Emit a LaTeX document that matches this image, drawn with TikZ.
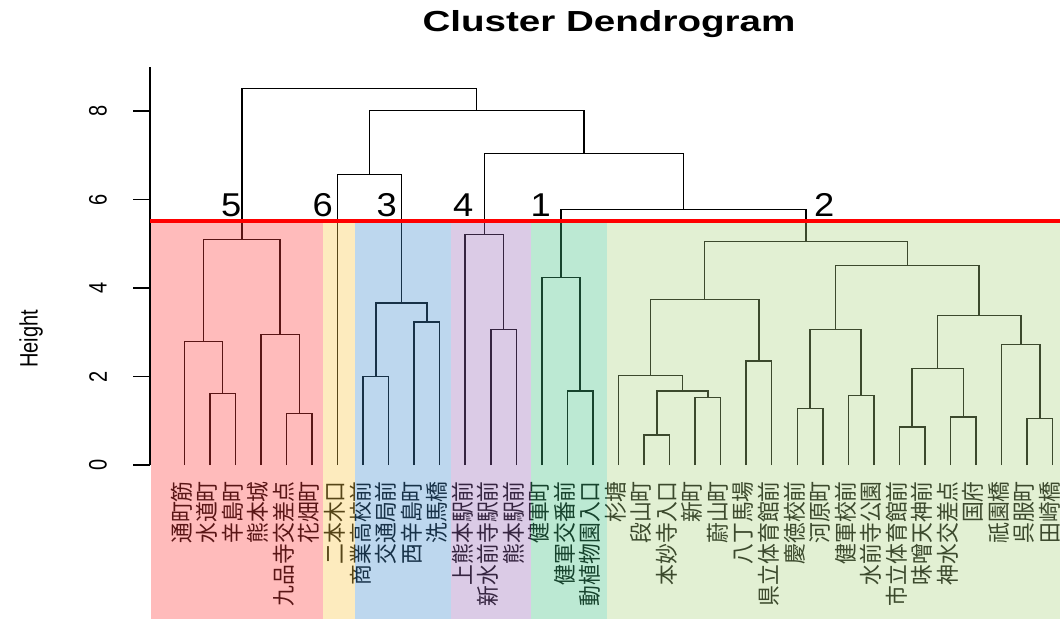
\documentclass[tikz,border=0pt]{standalone}
\usepackage{fontspec}
\setmainfont{Liberation Sans}
\newfontfamily\jpfont{Noto Sans CJK JP}
\begin{document}
\begin{tikzpicture}[x=1pt,y=-1pt,
  tree/.style={draw=black,line width=1.5pt},
  lab/.style={font=\jpfont\fontsize{20.8}{21}\selectfont,inner sep=0pt,xscale=1.1,rotate=90,anchor=east},
  ticklab/.style={font=\fontsize{20}{20}\selectfont,inner sep=0pt,xscale=1.26,rotate=90},
  cnum/.style={font=\fontsize{33}{33}\selectfont,inner sep=0pt,anchor=base,xscale=1.1},
  box/.style={fill opacity=0.35}]
\useasboundingbox (0,0) rectangle (1060,619);
\definecolor{cR}{RGB}{255,61,61}
\definecolor{cY}{RGB}{249,198,69}
\definecolor{cB}{RGB}{66,141,206}
\definecolor{cP}{RGB}{152,106,184}
\definecolor{cG}{RGB}{64,192,129}
\definecolor{cL}{RGB}{172,212,129}
% title
\node[font=\bfseries\fontsize{29}{29}\selectfont,inner sep=0pt,anchor=base,xscale=1.33] (title) at (609,31) {Cluster Dendrogram};
% axis
\draw[line width=1.3pt] (150,67) -- (150,465);
\foreach \v/\yy in {0/465,2/376.5,4/288,6/199.5,8/111}{
  \draw[line width=1.3pt] (150,\yy) -- (133,\yy);
  \node[ticklab] (tick\v) at (98,\yy) {\v};
}
\node[font=\fontsize{20}{20}\selectfont,inner sep=0pt,xscale=1.26,rotate=90] (ylab) at (31,339) {Height};
% leaves and labels
\foreach \t [count=\i from 0] in {通町筋,水道町,辛島町,熊本城,九品寺交差点,花畑町,二本木口,商業高校前,交通局前,西辛島町,洗馬橋,上熊本駅前,新水前寺駅前,熊本駅前,健軍町,健軍交番前,動植物園入口,杉塘,段山町,本妙寺入口,新町,蔚山町,八丁馬場,県立体育館前,慶徳校前,河原町,健軍校前,水前寺公園,市立体育館前,味噌天神前,神水交差点,国府,祇園橋,呉服町,田崎橋}{
  \coordinate (L\i) at ({184.3+25.54*\i},465);
  \node[lab] (t\i) at ({181.5+25.54*\i},481) {\t};
}
% merge points
\coordinate (r1) at (222.6,393.3);
\coordinate (r2) at (203.45,341.7);
\coordinate (r3) at (299.25,413.3);
\coordinate (r4) at (280.1,334.3);
\coordinate (r5) at (241.8,239.3);
\coordinate (b1) at (375.85,376.7);
\coordinate (b2) at (426.95,322);
\coordinate (b3) at (401.4,303);
\coordinate (y1) at (369.45,174.3);
\coordinate (p1) at (503.55,329.3);
\coordinate (p2) at (484.4,234.3);
\coordinate (g1) at (580.15,391);
\coordinate (g2) at (561.0,277.3);
\coordinate (a1) at (656.8,435);
\coordinate (a2) at (707.85,397.3);
\coordinate (a3) at (682.3,391);
\coordinate (a4) at (650.4,375.7);
\coordinate (a5) at (758.95,361);
\coordinate (a6) at (704.7,299.3);
\coordinate (a7) at (810.05,408.3);
\coordinate (a8) at (861.1,395.7);
\coordinate (a9) at (835.6,329.3);
\coordinate (a10) at (912.2,427);
\coordinate (a11) at (963.25,417);
\coordinate (a12) at (937.7,368.3);
\coordinate (a13) at (1039.9,418.3);
\coordinate (a14) at (1020.75,344.3);
\coordinate (a15) at (979.2,315.7);
\coordinate (a16) at (907.4,265.7);
\coordinate (a17) at (806.05,241.7);
\coordinate (u1) at (683.5,209.3);
\coordinate (u2) at (583.95,153.3);
\coordinate (u3) at (476.7,110.7);
\coordinate (root) at (359.25,88.3);
\foreach \c/\p in {L1/r1,L2/r1,L0/r2,r1/r2,L4/r3,L5/r3,L3/r4,r3/r4,r2/r5,r4/r5,
  L7/b1,L8/b1,L9/b2,L10/b2,b1/b3,b2/b3,L6/y1,b3/y1,
  L12/p1,L13/p1,L11/p2,p1/p2,L15/g1,L16/g1,L14/g2,g1/g2,
  L18/a1,L19/a1,L20/a2,L21/a2,a1/a3,a2/a3,L17/a4,a3/a4,L22/a5,L23/a5,a4/a6,a5/a6,
  L24/a7,L25/a7,L26/a8,L27/a8,a7/a9,a8/a9,L28/a10,L29/a10,L30/a11,L31/a11,a10/a12,a11/a12,
  L33/a13,L34/a13,L32/a14,a13/a14,a12/a15,a14/a15,a9/a16,a15/a16,a6/a17,a16/a17,
  g2/u1,a17/u1,p2/u2,u1/u2,y1/u3,u2/u3,r5/root,u3/root}{
  \draw[tree] (\c) |- (\p);
}
% cluster boxes
\fill[cR,box] (150.5,222) rectangle (322.5,619);
\fill[cY,box] (322.5,222) rectangle (355,619);
\fill[cB,box] (355,222) rectangle (451,619);
\fill[cP,box] (451,222) rectangle (530.5,619);
\fill[cG,box] (530.5,222) rectangle (607,619);
\fill[cL,box] (607,222) rectangle (1060,619);
% cut line
\draw[red,line width=4.7pt] (150,221) -- (1060,221);
% cluster numbers
\node[cnum] (n5) at (231.3,216.5) {5};
\node[cnum] (n6) at (322.7,216.5) {6};
\node[cnum] (n3) at (386.7,216.5) {3};
\node[cnum] (n4) at (463.3,216.5) {4};
\node[cnum] (n1) at (540.7,216.5) {1};
\node[cnum] (n2) at (824.3,216.5) {2};
\end{tikzpicture}
\end{document}
